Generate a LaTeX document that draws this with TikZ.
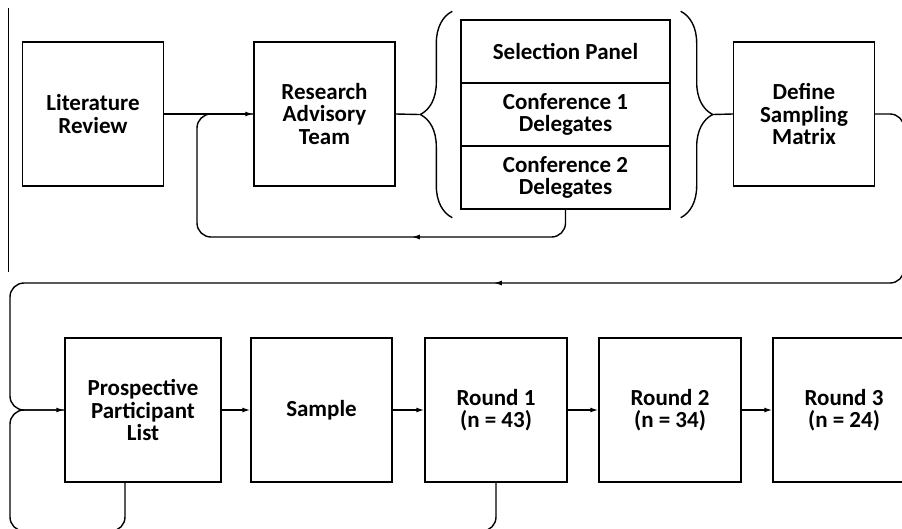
\documentclass[tikz,border=0pt]{standalone}
\usepackage{fontspec}
\setmainfont{Carlito}
\usetikzlibrary{arrows.meta,calc,decorations.markings,decorations.pathreplacing}
\tikzset{
  stage/.style={draw,line width=1.4pt,minimum width=141pt,minimum height=144pt,inner sep=0pt,align=center,font=\bfseries\fontsize{23}{22.5}\selectfont},
  panel/.style={stage,minimum width=209pt,minimum height=63pt},
  link/.style={line width=1.4pt},
  flow/.style={link,-{Latex[length=8pt,width=5pt]}},
  loop/.style={link,rounded corners=14pt},
  midarrow/.style={postaction={decorate,decoration={markings,mark=at position #1 with {\arrow{Latex[length=8pt,width=5pt]}}}}},
  curly/.style={link,decorate,decoration={brace,amplitude=32pt}}
}

\begin{document}
\begin{tikzpicture}[x=1pt,y=-1pt]
  \useasboundingbox (0,0) rectangle (902,528);
  \clip (0,0) rectangle (902,528);
  % top row
  \node[stage] (lit) at (93,114) {Literature\\Review};
  \node[stage] (rat) at (324.5,114) {Research\\Advisory\\Team};
  \node[panel] (sel) at (565.5,51.5) {Selection Panel};
  \node[panel] (conf1) at (565.5,114.5) {Conference 1\\Delegates};
  \node[panel] (conf2) at (565.5,177.5) {Conference 2\\Delegates};
  \node[stage] (dsm) at (804,114) {Define\\Sampling\\Matrix};
  % bottom row
  \node[stage,minimum width=156pt] (ppl) at (143,410) {Prospective\\Participant\\List};
  \node[stage] (smp) at (321.5,410) {Sample};
  \node[stage,minimum width=142pt] (r1) at (496,410) {Round 1\\(n = 43)};
  \node[stage,minimum width=142pt] (r2) at (670,410) {Round 2\\(n = 34)};
  \node[stage,minimum width=142pt] (r3) at (844,410) {Round 3\\(n = 24)};
  % braces round the panels
  \draw[curly] ($(conf2.south west)+(-8,8)$) -- ($(sel.north west)+(-8,-8)$);
  \draw[curly] ($(sel.north east)+(10,-8)$) -- ($(conf2.south east)+(10,8)$);
  \coordinate (ltip) at ($(conf1.west)+(-41,0)$);
  \coordinate (rtip) at ($(conf1.east)+(42,0)$);
  % turning points of the loops
  \coordinate (back) at (197,237);
  \coordinate (rc) at (904,283);
  \coordinate (lc) at (10,283);
  \coordinate (bot) at (10,531);
  \coordinate (pplout) at ($(ppl.south)+(-18,0)$);
  \draw[link,line width=1pt] (8,8) -- (8,272);
  \draw[flow] (lit) -- (rat);
  \draw[link] (rat.east) -- (ltip);
  \draw[link] (rtip) -- (dsm.west);
  \draw[loop,midarrow=175pt] (conf2.south) |- (back) |- (rat.west);
  \draw[loop,midarrow=596pt,-{Latex[length=8pt,width=5pt]}] (dsm.east) -| (rc) -- (lc) |- (ppl.west);
  \draw[loop] (r1.south) |- (bot) |- (ppl.west);
  \draw[loop] (pplout) |- (60,531);
  \draw[flow] (ppl) -- (smp);
  \draw[flow] (smp) -- (r1);
  \draw[flow] (r1) -- (r2);
  \draw[flow] (r2) -- (r3);
\end{tikzpicture}
\end{document}
